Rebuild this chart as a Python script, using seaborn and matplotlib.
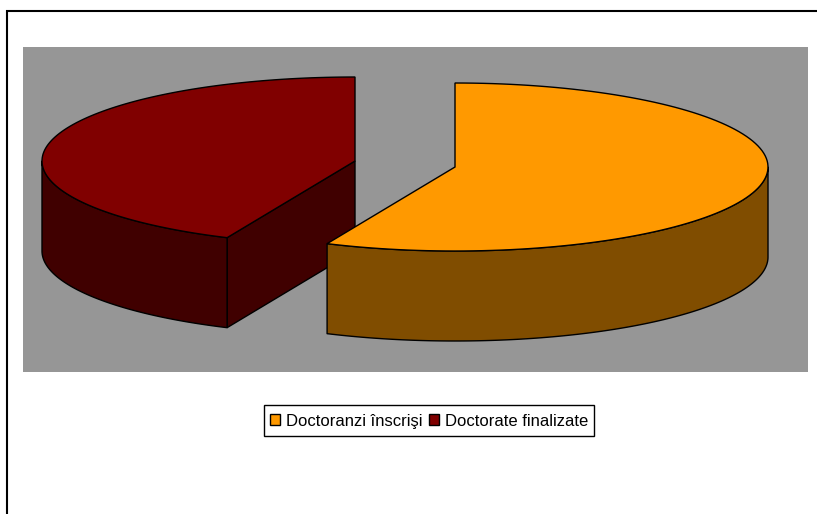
import numpy as np
import matplotlib
matplotlib.use('Agg')
import matplotlib.pyplot as plt
from matplotlib.patches import Patch, Rectangle
import seaborn as sns

# Values (share of the pie, percent)
labels = ['Doctoranzi înscrişi', 'Doctorate finalizate']
values = [56.7, 43.3]
top_colors = ['#FF9900', '#800000']
side_colors = ['#804D00', '#400000']
plot_bg = '#969696'

sns.set_theme(style='white')
plt.rcParams['font.family'] = ['Liberation Sans', 'DejaVu Sans']

fig = plt.figure(figsize=(8.17, 5.14), dpi=100)
ax = fig.add_axes([0, 0, 1, 1])
ax.set_xlim(0, 817)
ax.set_ylim(514, 0)
ax.axis('off')

# Chart frame, only the top and left edges are in the crop
ax.plot([7, 7, 817], [514, 11, 11], color='black', lw=1.5, solid_joinstyle='miter')
ax.add_patch(Rectangle((23, 47), 785, 325, facecolor=plot_bg, edgecolor='none'))

rx, ry, depth = 313, 84, 90
split = 2 * np.pi * values[0] / sum(values)


def rim(cx, cy, t0, t1):
    t = np.linspace(t0, t1, 120)
    return cx + rx * np.sin(t), cy - ry * np.cos(t)


def wall(cx, cy, t0, t1, color):
    x, y = rim(cx, cy, t0, t1)
    ax.fill(np.r_[x, x[::-1]], np.r_[y, y[::-1] + depth],
            facecolor=color, edgecolor='black', lw=1, joinstyle='round')


# Second slice first, the first slice sits in front of it
cx2, cy2 = 355, 161
px, py = rim(cx2, cy2, split, split)
ax.fill([cx2, px[0], px[0], cx2], [cy2, py[0], py[0] + depth, cy2 + depth],
        facecolor=side_colors[1], edgecolor='black', lw=1)
wall(cx2, cy2, split, 1.5 * np.pi, side_colors[1])
x, y = rim(cx2, cy2, split, 2 * np.pi)
ax.fill(np.r_[cx2, x], np.r_[cy2, y], facecolor=top_colors[1], edgecolor='black', lw=1)

cx1, cy1 = 455, 167
wall(cx1, cy1, 0.5 * np.pi, split, side_colors[0])
x, y = rim(cx1, cy1, 0, split)
ax.fill(np.r_[cx1, x], np.r_[cy1, y], facecolor=top_colors[0], edgecolor='black', lw=1)

# Legend box drawn apart so its size can follow the reference
ax.add_patch(Rectangle((264, 405), 330, 31, facecolor='white', edgecolor='black', lw=1))
handles = [Patch(facecolor=c, edgecolor='black', lw=1, label=l)
           for c, l in zip(top_colors, labels)]
leg = ax.legend(handles=handles, ncol=2, loc='center', bbox_to_anchor=(429, 421),
                bbox_transform=ax.transData, fontsize=12, frameon=False,
                handlelength=0.62, handleheight=0.62, handletextpad=0.35,
                columnspacing=0.37, borderpad=0.42, borderaxespad=0)
for t in leg.get_texts():
    t.set_color('black')
# The first label has a descender, which lifts it a pixel above the second
leg.get_texts()[0].set_y(-0.5)

fig.savefig('out.png', dpi=100, facecolor='white')
